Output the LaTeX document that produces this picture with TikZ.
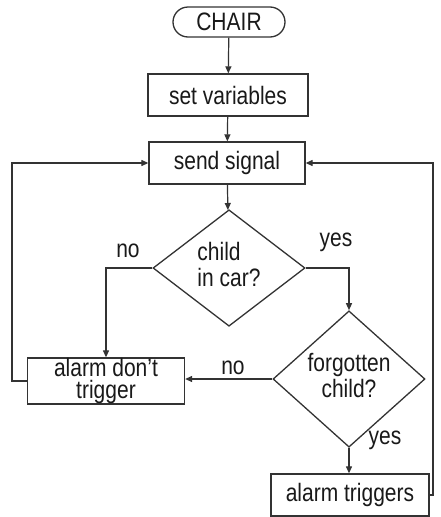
\documentclass[tikz,border=0pt]{standalone}
\usepackage{fontspec}
\setmainfont{Liberation Sans}
\usepackage{graphicx}
\usetikzlibrary{shapes.geometric,arrows.meta}
\newcommand\tx[1]{\scalebox{1}[1.2]{#1}}
\newcommand\tightlines[2]{\vbox{\baselineskip=18.5pt\lineskiplimit=-20pt\halign{\hfil##\hfil\cr #1\cr #2\cr}}}
\begin{document}
\begin{tikzpicture}[x=1pt,y=-1pt,
  every node/.style={text=black!90, font=\fontsize{21}{22.5}\selectfont},
  box/.style={draw=black!80, line width=1.3pt, minimum width=157pt, minimum height=42pt, inner sep=0pt},
  dec/.style={diamond, draw=black!80, line width=1.3pt, minimum width=152pt, minimum height=106pt, inner sep=0pt},
  term/.style={draw=black!80, line width=1.3pt, rounded corners=15pt, minimum width=112pt, minimum height=30pt, inner sep=0pt},
  conn/.style={draw=black!80, line width=1.2pt},
  arr/.style={conn, -{Triangle[length=7pt,width=6pt]}},
  lbl/.style={inner sep=0pt}]
\useasboundingbox (0,0) rectangle (441,517);
\node[term] (chair) at (229,22) {\tx{CHAIR}};
\node[box, minimum width=160pt] (setv) at (228,95) {\tx{set variables}};
\node[box, minimum width=156pt] (send) at (227,163) {\tx{send signal}};
\node[dec] (d1) at (229,268) {\tx{\begin{tabular}{@{}l@{}}child\\[-0.5pt]in car?\end{tabular}}};
\node[dec] (d2) at (349,379) {\tx{\begin{tabular}{@{}c@{}}forgotten\\[-0.5pt]child?\end{tabular}}};
\node[box, minimum height=46pt] (adt) at (106,381) {\tx{\tightlines{alarm don't}{trigger}}};
\node[box, minimum width=158pt] (at) at (350,495) {\tx{alarm triggers}};
\coordinate (cL1) at (106,268);
\coordinate (cR1) at (349,268);
\coordinate (cl) at (12,381);
\coordinate (clt) at (12,163);
\coordinate (cr) at (433,495);
\coordinate (crt) at (433,163);
\node[lbl] (no1) at (128,251) {\tx{no}};
\node[lbl] (yes1) at (336,242) {\tx{yes}};
\node[lbl] (no2) at (233,368) {\tx{no}};
\node[lbl] (yes2) at (385,440) {\tx{yes}};
\draw[arr] (chair) -- (setv);
\draw[arr] (setv) -- (send);
\draw[arr] (send) -- (d1);
\draw[arr] (d1.west) -- (cL1) -- (adt.north -| cL1);
\draw[arr] (d1.east) -- (cR1) -- (d2.north);
\draw[arr] (d2.west) -- (adt.east |- d2.west);
\draw[arr] (d2.south) -- (at.north -| d2.south);
\draw[arr] (adt.west |- cl) -- (cl) -- (clt) -- (send.west);
\draw[arr] (at.east) -- (cr) -- (crt) -- (send.east);
\end{tikzpicture}
\end{document}
